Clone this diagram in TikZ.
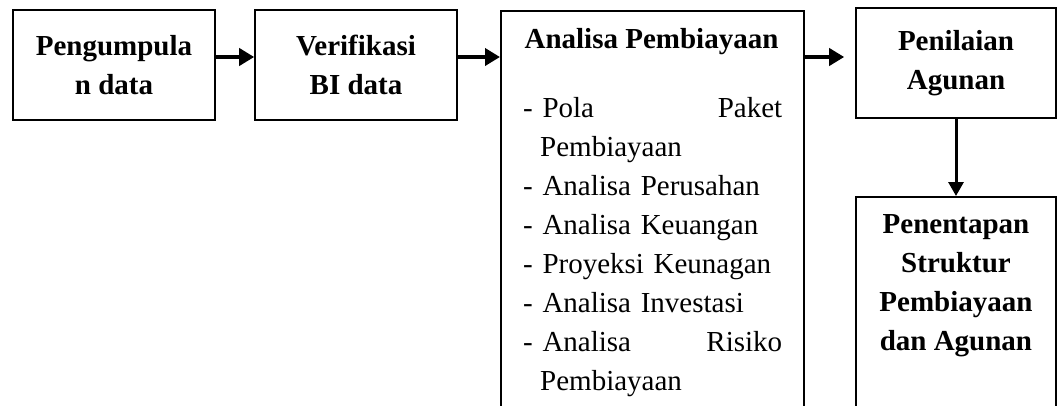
\documentclass[tikz,border=0pt]{standalone}
\usepackage{fontspec}
\setmainfont{Liberation Serif}
\usetikzlibrary{arrows.meta}

\newcommand{\sisip}{\hspace*{17pt}}

\tikzset{
	kotak/.style={rectangle,draw,line width=1.6pt,minimum width=202pt,minimum height=110pt,inner sep=0pt},
	judul/.style={align=center,font=\fontsize{29}{39}\selectfont\bfseries},
	daftar/.style={align=left,text width=259pt,inner sep=0pt,font=\fontsize{29}{39}\selectfont},
	panah/.style={line width=4pt,-{Triangle[length=15pt,width=17pt]}},
	panahbawah/.style={line width=3pt,-{Triangle[length=14pt,width=15pt]}}
}

\begin{document}
\begin{tikzpicture}[x=1pt,y=-1pt]
	
	\useasboundingbox (0,0) rectangle (1058,405);
	\clip (0,0) rectangle (1058,405);
	
	\node(kumpul) [kotak,judul] at (114,65) {Pengumpula\\n data};
	
	\node(verifikasi) [kotak,judul] at (356,65) {Verifikasi\\BI data};
	
	\node(analisa) [kotak,minimum width=303pt,minimum height=430pt,anchor=north west] at (500,10) {};
	
	\node(analisajudul) [judul,inner sep=0pt] at (651.5,42) {Analisa Pembiayaan};
	
	\node(analisaisi) [daftar,anchor=north west] at (523,97) {- Pola \hfill Paket\\
		\sisip Pembiayaan\\
		- Analisa Perusahan\\
		- Analisa Keuangan\\
		- Proyeksi Keunagan\\
		- Analisa Investasi\\
		- Analisa \hfill Risiko\\
		\sisip Pembiayaan};
	
	\node(penilaian) [kotak,judul,minimum width=200pt] at (956,63) {Penilaian\\Agunan};
	
	\node(penetapan) [kotak,minimum width=200pt,minimum height=250pt,anchor=north] at (956,196) {};
	
	\node(penetapanteks) [judul,inner sep=0pt] at (956,286) {Penentapan\\Struktur\\Pembiayaan\\dan Agunan};
	
	\draw[panah] ([yshift=8pt]kumpul.east) -- ([yshift=8pt]verifikasi.west);
	
	\draw[panah] ([yshift=8pt]verifikasi.east) -- ([yshift=8pt]verifikasi.east -| analisa.west);
	
	\draw[panah] ([yshift=6pt]penilaian.west -| analisa.east) -- ([yshift=6pt,xshift=-11pt]penilaian.west);
	
	\draw[panahbawah] (penilaian.south) -- (penetapan.north);
	
\end{tikzpicture}
\end{document}
